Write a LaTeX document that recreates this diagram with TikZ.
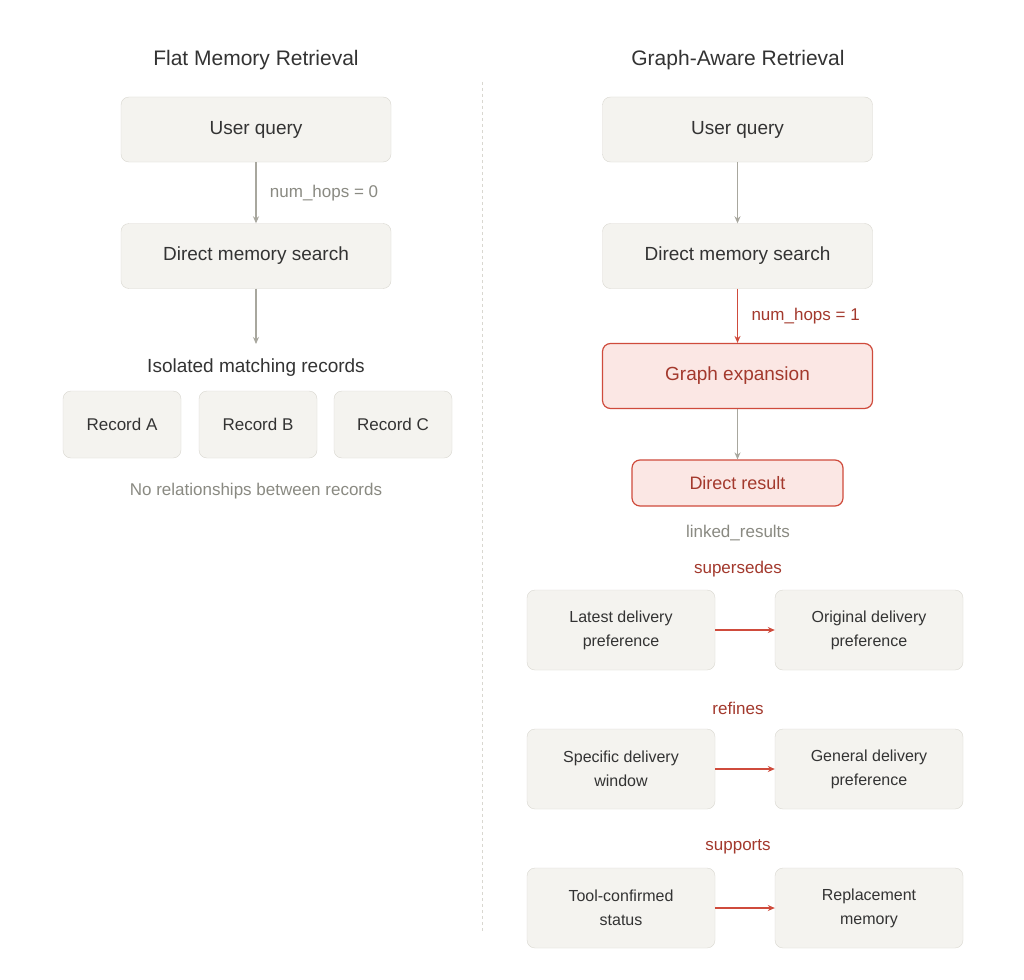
\documentclass[tikz,border=0pt]{standalone}
\usepackage{fontspec}
\setmainfont{Liberation Sans}
\usetikzlibrary{arrows.meta}
\definecolor{boxfill}{HTML}{F4F3EF}
\definecolor{boxline}{HTML}{D9D7D0}
\definecolor{arrowgray}{HTML}{A8A79E}
\definecolor{hopred}{HTML}{CF4B3C}
\definecolor{hoptext}{HTML}{A3392D}
\definecolor{hopfill}{HTML}{FBE7E4}
\definecolor{darktext}{HTML}{333333}
\definecolor{greytext}{HTML}{8A8A82}
\tikzset{
  block/.style={draw=boxline, fill=boxfill, rounded corners=8pt, text=darktext, align=center, font=\fontsize{19}{23}\selectfont},
  bigblock/.style={block, minimum width=270pt, minimum height=65pt},
  record/.style={block, minimum width=118pt, minimum height=67pt, font=\fontsize{17}{21}\selectfont},
  linkblock/.style={block, minimum width=188pt, minimum height=80pt, font=\fontsize{16}{24}\selectfont},
  hopblock/.style={block, draw=hopred, fill=hopfill, text=hoptext},
  title/.style={text=darktext, font=\fontsize{21}{25}\selectfont},
  note/.style={text=greytext, font=\fontsize{17}{21}\selectfont},
  rednote/.style={text=hoptext, font=\fontsize{17}{21}\selectfont},
  flow/.style={draw=arrowgray, line width=1.2pt, -{Stealth[length=7pt,width=6pt]}},
  redflow/.style={draw=hopred, line width=1.4pt, -{Stealth[length=7pt,width=6pt]}}
}
\begin{document}
\begin{tikzpicture}[x=1pt, y=-1pt]
\useasboundingbox (0,0) rectangle (1024,979);
\fill[white] (0,0) rectangle (1024,979);

%% Flat %%
\node [title] (FlatTitle) at (256,60) {Flat Memory Retrieval};
\node [bigblock] (FlatQuery) at (256,129.5) {User query};
\node [bigblock] (FlatSearch) at (256,256) {Direct memory search};
\node [title, font=\fontsize{19}{23}\selectfont] (Isolated) at (256,368) {Isolated matching records};
\coordinate (IsolatedTop) at (256,344);
\node [record] (RecordA) at (122,424.5) {Record A};
\node [record] (RecordB) at (258,424.5) {Record B};
\node [record] (RecordC) at (393,424.5) {Record C};
\node [note] (NoRel) at (256,491) {No relationships between records};

%% Divider %%
\coordinate (DivTop) at (482,82);
\coordinate (DivBottom) at (482,932);
\draw[boxline, dashed, line width=1pt] (DivTop) -- (DivBottom);

%% Graph-aware %%
\node [title] (GraphTitle) at (738,60) {Graph-Aware Retrieval};
\node [bigblock] (GraphQuery) at (737.5,129.5) {User query};
\node [bigblock] (GraphSearch) at (737.5,256) {Direct memory search};
\node [bigblock, hopblock, line width=1.2pt] (Expansion) at (737.5,376) {Graph expansion};
\node [block, hopblock, line width=1.2pt, minimum width=211pt, minimum height=46pt, font=\fontsize{18}{22}\selectfont] (DirectResult) at (737.5,483) {Direct result};
\node [note] (Linked) at (738,533) {linked\_results};

\node [rednote] (Supersedes) at (738,569) {supersedes};
\node [linkblock] (Latest) at (621,630) {Latest delivery\\preference};
\node [linkblock] (Original) at (869,630) {Original delivery\\preference};

\node [rednote] (Refines) at (738,708) {refines};
\node [linkblock] (Specific) at (621,769) {Specific delivery\\window};
\node [linkblock] (General) at (869,769) {General delivery\\preference};

\node [rednote] (Supports) at (738,847) {supports};
\node [linkblock] (ToolConfirmed) at (621,908) {Tool-confirmed\\status};
\node [linkblock] (Replacement) at (869,908) {Replacement\\memory};

%% Connections %%
\draw[flow] (FlatQuery) -- node[note, right=10pt, pos=0.5] {num\_hops = 0} (FlatSearch);
\draw[flow] (FlatSearch) -- (IsolatedTop);
\draw[flow] (GraphQuery) -- (GraphSearch);
\draw[redflow] (GraphSearch) -- node[rednote, right=10pt, pos=0.5] {num\_hops = 1} (Expansion);
\draw[flow] (Expansion) -- (DirectResult);
\draw[redflow] (Latest) -- (Original);
\draw[redflow] (Specific) -- (General);
\draw[redflow] (ToolConfirmed) -- (Replacement);
\end{tikzpicture}
\end{document}
